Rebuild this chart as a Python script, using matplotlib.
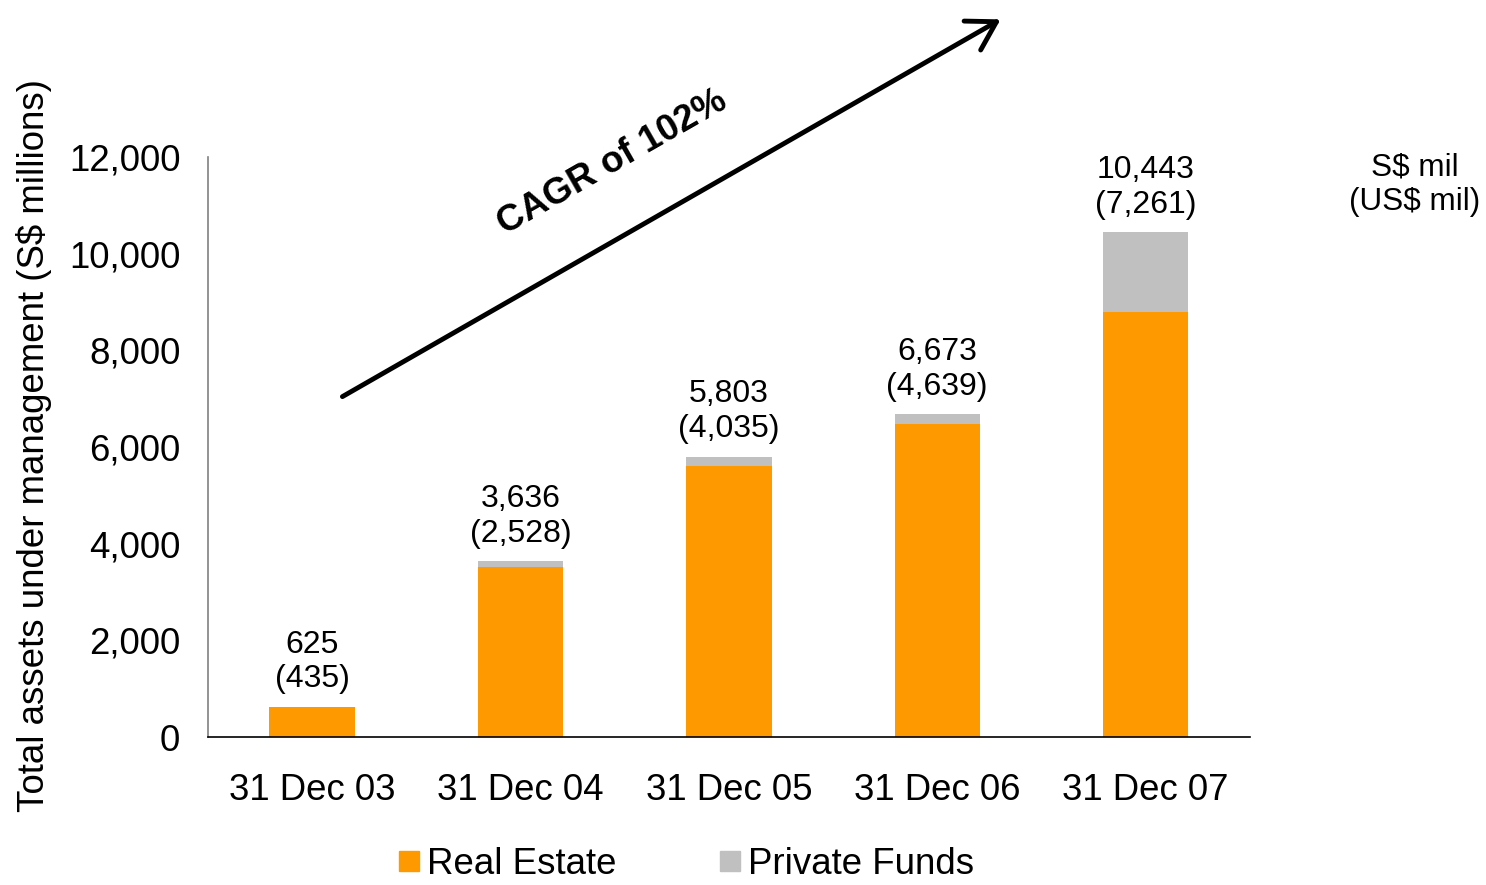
import matplotlib
matplotlib.use("Agg")
import matplotlib.pyplot as plt
from matplotlib.lines import Line2D
import numpy as np

categories = ["31 Dec 03", "31 Dec 04", "31 Dec 05", "31 Dec 06", "31 Dec 07"]
real_estate = [625, 3520, 5610, 6480, 8790]
private_funds = [0, 116, 193, 193, 1653]
total_sgd = ["625", "3,636", "5,803", "6,673", "10,443"]
total_usd = ["(435)", "(2,528)", "(4,035)", "(4,639)", "(7,261)"]
yticks = [0, 2000, 4000, 6000, 8000, 10000, 12000]

orange = "#FF9900"
grey = "#C0C0C0"

plt.rcParams['font.family'] = ['Liberation Sans', 'DejaVu Sans']

fig = plt.figure(figsize=(14.86, 8.85), dpi=100)
ax = fig.add_axes([0.140, 0.1672, 0.701, 0.6554])

x = np.arange(len(categories))
w = 0.41
ax.bar(x, real_estate, w, color=orange, label="Real Estate")
ax.bar(x, private_funds, w, bottom=real_estate, color=grey, label="Private Funds")

tops = [a + b for a, b in zip(real_estate, private_funds)]
for xi, t, s, u in zip(x, tops, total_sgd, total_usd):
    ax.annotate(s + "\n" + u, (xi, t), xytext=(0, 9), textcoords="offset points",
                ha="center", va="bottom", fontsize=23, linespacing=1.2)

ax.set_xlim(-0.5, len(categories) - 0.5)
ax.set_ylim(0, 12000)
ax.set_yticks(yticks)
ax.set_yticklabels([f"{v:,}" for v in yticks], fontsize=26.4)
ax.set_xticks(x)
ax.set_xticklabels(categories, fontsize=26.4)
ax.tick_params(axis="both", length=0)
ax.tick_params(axis="x", pad=26)
ax.tick_params(axis="y", pad=20)
for s in ["top", "right"]:
    ax.spines[s].set_visible(False)
ax.spines["left"].set_color("#808080")
ax.spines["left"].set_linewidth(1.2)
ax.spines["bottom"].set_color("black")
ax.spines["bottom"].set_linewidth(1.2)

fig.text(0.023, 1 - 446 / 885, "Total assets under management (S$ millions)", rotation=90,
         ha="center", va="center", fontsize=26.4)

# Arrow and CAGR text
fig.add_artist(matplotlib.patches.FancyArrowPatch(
    (340 / 1486, 1 - 398 / 885), (1003 / 1486, 1 - 18 / 885),
    transform=fig.transFigure, arrowstyle="->,head_length=1.0,head_width=0.6",
    mutation_scale=20, lw=3.5, color="black"))
fig.text(612 / 1486, 1 - 163 / 885, "CAGR of 102%", rotation=29.8, rotation_mode="anchor",
         ha="center", va="center", fontsize=26.6, fontweight="bold")

fig.text(1415 / 1486, 1 - 185 / 885, "S$ mil\n(US$ mil)", ha="center", va="center",
         fontsize=22.7, linespacing=1.2)

handles = [Line2D([], [], marker="s", color=orange, linestyle="none", markersize=15),
           Line2D([], [], marker="s", color=grey, linestyle="none", markersize=15)]
fig.legend(handles, ["Real Estate", "Private Funds"], ncol=2, loc="center",
           bbox_to_anchor=(687 / 1486, 1 - 864 / 885), frameon=False, fontsize=26.4,
           handlelength=0.5, handletextpad=0.25, columnspacing=2.82, borderpad=0)

fig.savefig("out.png", dpi=100)
